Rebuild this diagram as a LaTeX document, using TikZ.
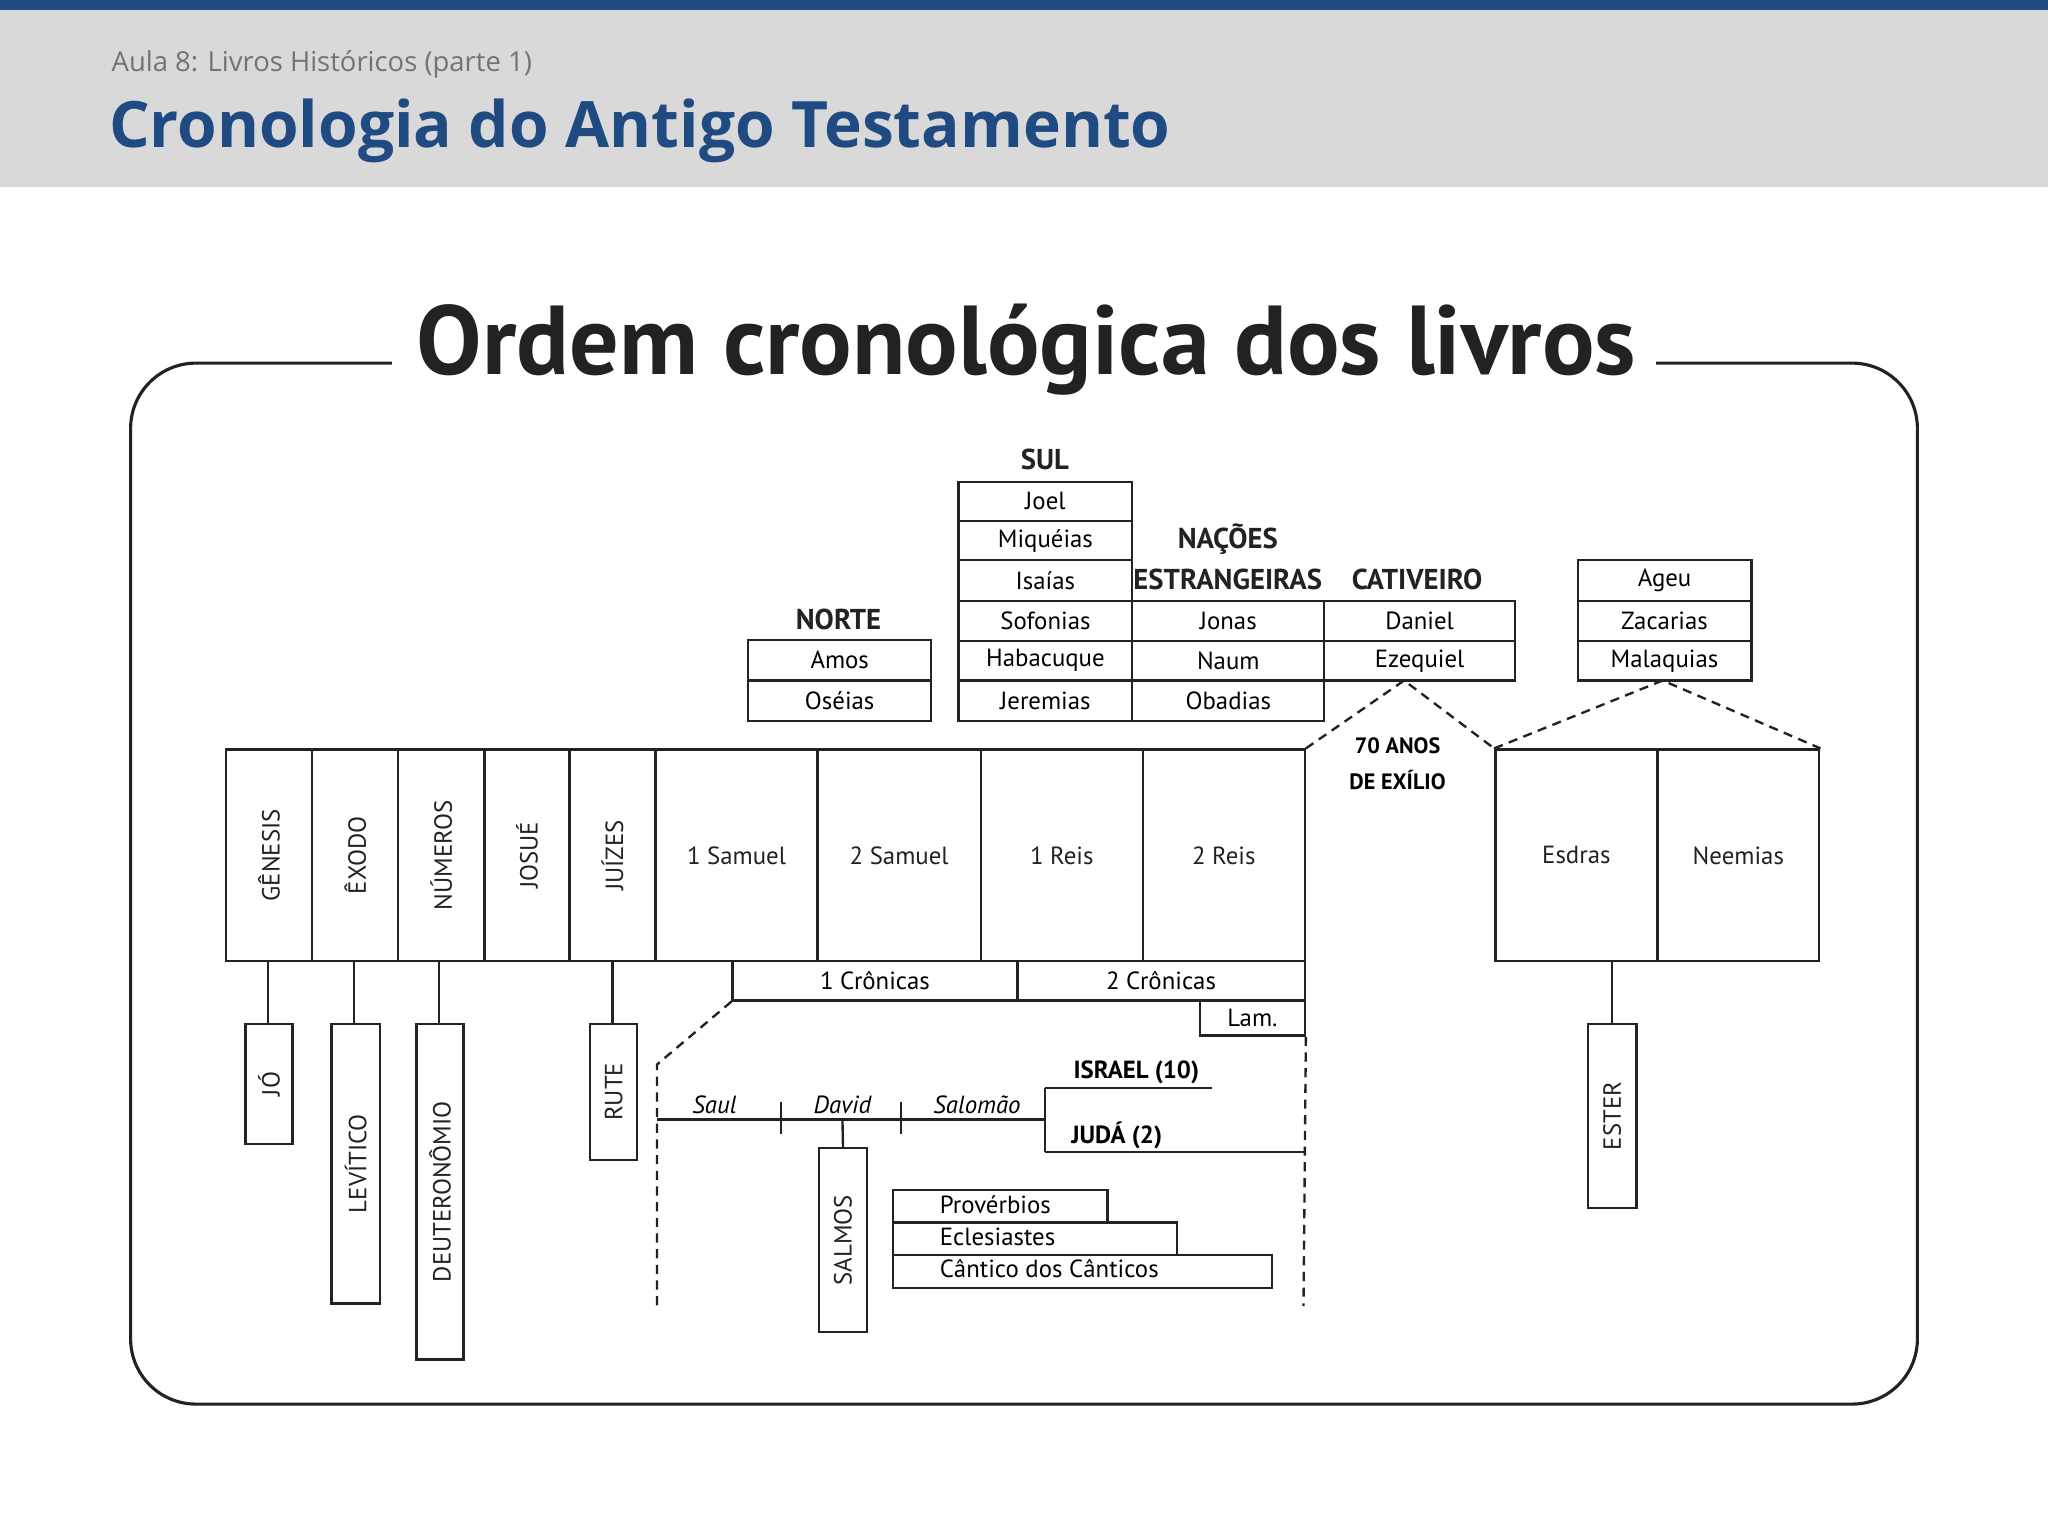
\documentclass[tikz,border=0pt]{standalone}
\usepackage{fontspec}
\setmainfont{PT Sans}
\newfontfamily\hdr{Open Sans}
\usetikzlibrary{calc}
\definecolor{bluebar}{HTML}{1F4A82}
\definecolor{graybg}{HTML}{D9D9D9}
\definecolor{ink}{HTML}{222222}
\tikzset{
  bx/.style={draw=ink,line width=1.8pt,inner sep=0pt,font=\fontsize{19}{21}\selectfont,text=ink},
  vt/.style={font=\fontsize{19}{21}\selectfont,rotate=90,text=ink},
  hd/.style={font=\bfseries\fontsize{22}{24}\selectfont,text=ink},
  ln/.style={draw=ink,line width=1.8pt},
  dl/.style={draw=ink,line width=1.8pt,dash pattern=on 7pt off 5pt},
}
\newcommand{\rb}[5]{\node[bx,minimum width=#3-#1,minimum height=#4-#2,anchor=north west] (#5) at (#1,#2) {};}
\begin{document}
\begin{tikzpicture}[x=1pt,y=-1pt]
\useasboundingbox (0,0) rectangle (1568,1176);
\fill[white] (0,0) rectangle (1568,1176);
\fill[graybg] (0,8) rectangle (1568,143);
\fill[bluebar] (0,0) rectangle (1568,8);
\node[anchor=base west,text=gray!90!black,font=\hdr\fontsize{21}{23}\selectfont] (sub) at (82,55) {Aula 8: Livros Históricos (parte 1)};
\node[anchor=base west,text=bluebar,font=\hdr\bfseries\fontsize{49}{52}\selectfont] (tit) at (80,113) {Cronologia do Antigo Testamento};
% frame
\draw[ln,line width=2.4pt,rounded corners=50pt] (300,278) -- (100,278) -- (100,1075) -- (1468,1075) -- (1468,278) -- (1268,278);
\node[font=\bfseries\fontsize{75}{78}\selectfont,text=ink] (otit) at (786,268) {Ordem cronológica dos livros};
% main row
\foreach \a/\b/\t [count=\i] in {172/238/GÊNESIS,238/304/ÊXODO,304/370/NÚMEROS,370/435/JOSUÉ,435/501/JUÍZES}{
  \rb{\a}{573}{\b}{735}{m\i}
  \node[vt] at (m\i) {\t};
}
\foreach \a/\b/\t [count=\i from 6] in {501/625/1 Samuel,625/750/2 Samuel,750/874/1 Reis,874/998/2 Reis,1144/1268/Esdras,1268/1392/Neemias}{
  \rb{\a}{573}{\b}{735}{m\i}
  \node[font=\fontsize{19}{21}\selectfont,text=ink] at (m\i) {\t};
}
\rb{560}{735}{778}{765}{cr1}\node[font=\fontsize{19}{21}\selectfont] at (cr1) {1 Crônicas};
\rb{778}{735}{998}{765}{cr2}\node[font=\fontsize{19}{21}\selectfont] at (cr2) {2 Crônicas};
\rb{918}{765}{998}{792}{lam}\node[font=\fontsize{19}{21}\selectfont] at (lam) {Lam.};
% hanging
\rb{187}{783}{223}{875}{jo}\node[vt] at (jo) {JÓ};
\rb{253}{783}{290}{997}{lev}\node[vt] at (lev) {LEVÍTICO};
\rb{318}{783}{354}{1040}{deu}\node[vt] at (deu) {DEUTERONÔMIO};
\rb{451}{783}{487}{887}{rut}\node[vt] at (rut) {RUTE};
\rb{1215}{783}{1252}{924}{est}\node[vt] at (est) {ESTER};
\draw[ln] (205,735) -- (205,783);
\draw[ln] (271,735) -- (271,783);
\draw[ln] (336,735) -- (336,783);
\draw[ln] (469,735) -- (469,783);
\draw[ln] (1234,735) -- (1234,783);
% dashed
\coordinate (d1) at (503,815); \coordinate (d2) at (503,1000);
\draw[dl] (cr1.south west) -- (d1) -- (d2);
\coordinate (d3) at (998,1000);
\draw[dl] (lam.south east) -- (d3);
% timeline
\coordinate (t0) at (503,857); \coordinate (t1) at (800,857);
\draw[ln] (t0) -- (t1);
\draw[ln] (598,844) -- (598,868); \draw[ln] (690,844) -- (690,868);
\draw[ln] (800,833) -- (800,882);
\coordinate (is) at (928,833); \coordinate (ju) at (998,882);
\draw[ln] (800,833) -- (is); \draw[ln] (800,882) -- (ju);
\node[font=\itshape\fontsize{19}{21}\selectfont] at (547,846) {Saul};
\node[font=\itshape\fontsize{19}{21}\selectfont] at (645,846) {David};
\node[font=\itshape\fontsize{19}{21}\selectfont] at (748,846) {Salomão};
\node[font=\bfseries\fontsize{19}{21}\selectfont] at (870,821) {ISRAEL (10)};
\node[font=\bfseries\fontsize{19}{21}\selectfont] at (855,869) {JUDÁ (2)};
\rb{626}{878}{663}{1019}{sal}\node[vt] at (sal) {SALMOS};
\draw[ln] (645,857) -- (sal.north);
\rb{683}{910}{847}{935}{pro}\node[font=\fontsize{19}{21}\selectfont,anchor=west] at (716,922) {Provérbios};
\rb{683}{935}{900}{960}{ecl}\node[font=\fontsize{19}{21}\selectfont,anchor=west] at (716,947) {Eclesiastes};
\rb{683}{960}{973}{985}{can}\node[font=\fontsize{19}{21}\selectfont,anchor=west] at (716,971) {Cântico dos Cânticos};
% top groups
\node[hd] at (642,474) {NORTE};
\rb{572}{489}{712}{520}{amo}\node[font=\fontsize{19}{21}\selectfont] at (amo) {Amos};
\rb{572}{520}{712}{551}{ose}\node[font=\fontsize{19}{21}\selectfont] at (ose) {Oséias};
\node[hd] at (800,352) {SUL};
\foreach \a/\b/\t [count=\i] in {368/398/Joel,398/428/Miquéias,428/459/Isaías,459/490/Sofonias,490/520/Habacuque,520/551/Jeremias}{
  \rb{733}{\a}{866}{\b}{s\i}\node[font=\fontsize{19}{21}\selectfont] at (s\i) {\t};
}
\node[hd] at (940,413) {NAÇÕES};
\node[hd] at (940,444) {ESTRANGEIRAS};
\foreach \a/\b/\t [count=\i] in {459/490/Jonas,490/520/Naum,520/551/Obadias}{
  \rb{866}{\a}{1013}{\b}{n\i}\node[font=\fontsize{19}{21}\selectfont] at (n\i) {\t};
}
\node[hd] at (1085,444) {CATIVEIRO};
\foreach \a/\b/\t [count=\i] in {459/490/Daniel,490/520/Ezequiel}{
  \rb{1013}{\a}{1159}{\b}{c\i}\node[font=\fontsize{19}{21}\selectfont] at (c\i) {\t};
}
\foreach \a/\b/\t [count=\i] in {428/459/Ageu,459/490/Zacarias,490/520/Malaquias}{
  \rb{1207}{\a}{1340}{\b}{p\i}\node[font=\fontsize{19}{21}\selectfont] at (p\i) {\t};
}
\coordinate (x1) at (1075,521);
\draw[dl] (m9.north east) -- (x1) -- (m10.north west);
\coordinate (x2) at (1273,521);
\draw[dl] (m10.north west) -- (x2) -- (m11.north east);
\node[font=\bfseries\fontsize{17}{19}\selectfont] at (1070,571) {70 ANOS};
\node[font=\bfseries\fontsize{17}{19}\selectfont] at (1070,597) {DE EXÍLIO};
\end{tikzpicture}
\end{document}
